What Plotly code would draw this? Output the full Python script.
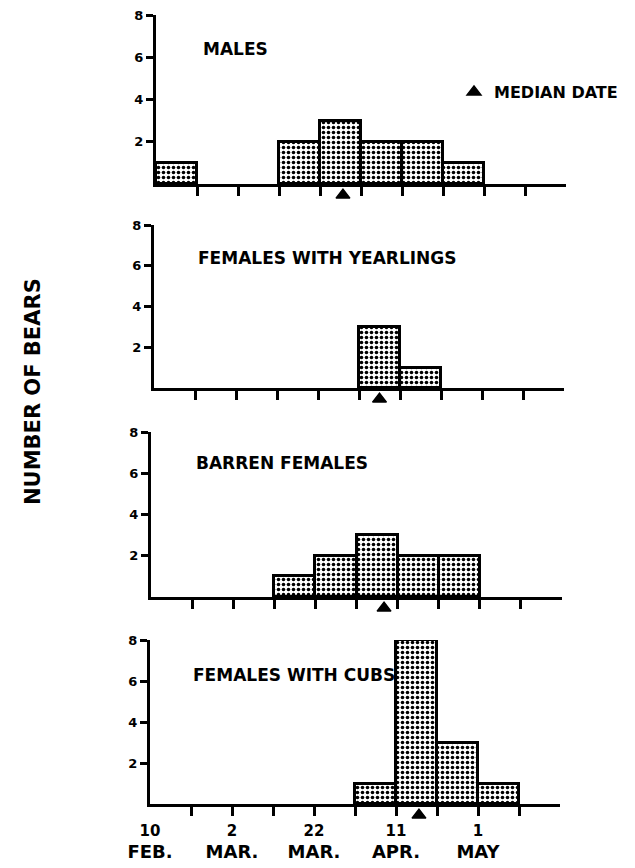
import plotly.graph_objects as go

# ---- data ----
bin_start_days = [0, 10, 20, 30, 40, 50, 60, 70, 80, 90]   # days after 10 Feb, 10-day bins
group_names = ["MALES", "FEMALES WITH YEARLINGS", "BARREN FEMALES", "FEMALES WITH CUBS"]
males = [1, 0, 0, 2, 3, 2, 2, 1, 0, 0]
yearlings = [0, 0, 0, 0, 0, 3, 1, 0, 0, 0]
barren = [0, 0, 0, 1, 2, 3, 2, 2, 0, 0]
cubs = [0, 0, 0, 0, 0, 1, 8, 3, 1, 0]
median_days = [45.6, 55.0, 56.7, 65.6]
x_tick_days = [0, 20, 40, 60, 80]
x_tick_day_labels = ["10", "2", "22", "11", "1"]
x_tick_month_labels = ["FEB.", "MAR.", "MAR.", "APR.", "MAY"]
x_minor_tick_days = [10, 20, 30, 40, 50, 60, 70, 80, 90]
y_ticks = [2, 4, 6, 8]

series = [males, yearlings, barren, cubs]

# ---- layout geometry: pixel positions in the 635x868 page ----
OFF = 8                      # browser body margin
W, H = 635 - OFF, 868 - OFF  # figure size


def fx(px):
    return (px - OFF) / W


def fy(py):
    return 1 - (py - OFF) / H


panels_px = [  # x at day 0, x at day 100, y at 0, y at 8
    (156, 566, 184, 15),
    (154, 564, 388, 225),
    (151, 562, 597, 432),
    (150, 560, 804, 640),
]
title_pos = [(11, 6.4), (10.2, 6.4), (10.5, 6.5), (10.0, 6.3)]

FONT = "DejaVu Sans"
fig = go.Figure()

bar_centers = [d + 5 for d in bin_start_days]

for i, (vals, name) in enumerate(zip(series, group_names)):
    k = "" if i == 0 else str(i + 1)
    fig.add_trace(go.Bar(
        x=bar_centers, y=[v if v > 0 else None for v in vals], width=10,
        xaxis="x" + k, yaxis="y" + k,
        marker=dict(color="white", line=dict(color="black", width=3),
                    pattern=dict(shape=".", fgcolor="black", bgcolor="white",
                                 size=5, solidity=0.4, fillmode="replace")),
        showlegend=False, hoverinfo="skip",
    ))
    fig.add_trace(go.Scatter(
        x=[median_days[i]], y=[0.56], mode="markers",
        xaxis="x" + k, yaxis="y" + str(i + 5),
        marker=dict(symbol="triangle-up", size=12, color="black",
                    line=dict(color="black", width=1.5)),
        name="MEDIAN DATE",
        showlegend=(i == 0), hoverinfo="skip",
    ))

axis_common = dict(showgrid=False, zeroline=False, showline=True, linecolor="black",
                   linewidth=3, fixedrange=True, automargin=False)
layout = dict(
    template="none",
    width=W, height=H,
    margin=dict(l=0, r=0, t=0, b=0, pad=0),
    paper_bgcolor="white", plot_bgcolor="rgba(0,0,0,0)",
    bargap=0,
    font=dict(family=FONT, color="black"),
    showlegend=True,
    legend=dict(x=fx(454), y=fy(92), xanchor="left", yanchor="middle",
                bgcolor="rgba(0,0,0,0)", borderwidth=0,
                font=dict(family=FONT, size=16, weight="bold", color="black")),
)
annotations = []
for i, (x0, x1, y0, y1) in enumerate(panels_px):
    k = "" if i == 0 else str(i + 1)
    layout["xaxis" + k] = dict(
        axis_common, domain=[fx(x0), fx(x1)], range=[0, 100], anchor="y" + k,
        tickmode="array", tickvals=x_minor_tick_days, ticks="outside",
        ticklen=9, tickwidth=3, tickcolor="black", showticklabels=False,
    )
    layout["yaxis" + k] = dict(
        axis_common, domain=[fy(y0), fy(y1)], range=[0, 8], anchor="x" + k,
        tickmode="array", tickvals=y_ticks, ticks="outside", ticklen=7,
        tickwidth=3, tickcolor="black", ticklabeloverflow="allow",
        tickfont=dict(family=FONT, size=13, weight="bold", color="black"),
    )
    # thin strip just below the x axis holding the median-date marker
    layout["yaxis" + str(i + 5)] = dict(
        domain=[fy(y0 + 24), fy(y0 + 1)], range=[0, 1], anchor="x" + k,
        visible=False, fixedrange=True, automargin=False,
    )
    annotations.append(dict(
        x=title_pos[i][0], y=title_pos[i][1], xref="x" + k, yref="y" + k,
        text=group_names[i], showarrow=False, xanchor="left", yanchor="middle",
        font=dict(family=FONT, size=17, weight="bold", color="black"),
    ))

x0, x1, y0, y1 = panels_px[3]
layout["xaxis5"] = dict(
    showgrid=False, zeroline=False, showline=False, fixedrange=True, automargin=False,
    domain=[fx(x0), fx(x1)], range=[0, 100], anchor="y4", overlaying="x4",
    side="bottom", tickmode="array", tickvals=x_tick_days,
    ticktext=["<span style='font-size:15px'>%s</span><br>"
              "<span style='font-size:18px'>%s</span>" % (d, m)
              for d, m in zip(x_tick_day_labels, x_tick_month_labels)],
    ticks="", ticklabelstandoff=14, ticklabeloverflow="allow",
    tickfont=dict(family=FONT, size=17, weight="bold", color="black"),
)
# a tiny invisible trace so the label axis is drawn
fig.add_trace(go.Scatter(x=[None], y=[None], xaxis="x5", yaxis="y4",
                         showlegend=False, hoverinfo="skip"))

annotations.append(dict(
    x=fx(33), y=fy(392), xref="paper", yref="paper", text="NUMBER OF BEARS",
    textangle=-90, showarrow=False, xanchor="center", yanchor="middle",
    font=dict(family=FONT, size=21, weight="bold", color="black"),
))
layout["annotations"] = annotations

fig.update_layout(**layout)
fig.write_html("out.html")
